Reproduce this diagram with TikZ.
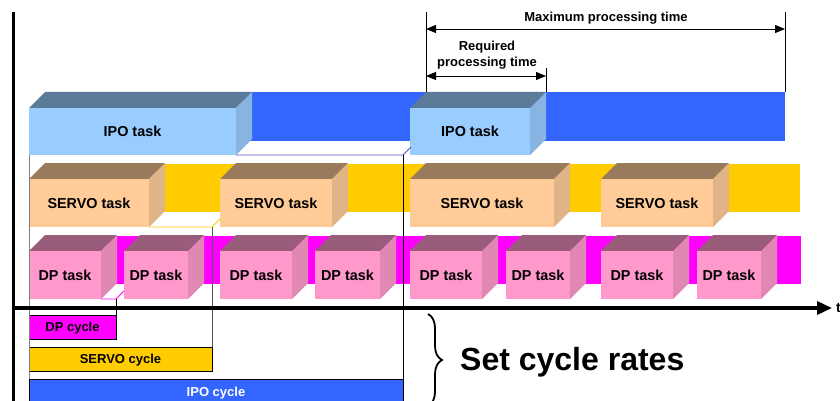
\documentclass[tikz,border=0pt]{standalone}
\usepackage{fontspec}
\setmainfont{Liberation Sans}
\usetikzlibrary{arrows.meta,decorations.pathreplacing}

\definecolor{ipoF}{HTML}{99CCFF}
\definecolor{ipoT}{HTML}{5C7A99}
\definecolor{ipoS}{HTML}{87B4E0}
\definecolor{ipoBar}{HTML}{3366FF}
\definecolor{srvF}{HTML}{FFCC99}
\definecolor{srvT}{HTML}{997A5C}
\definecolor{srvS}{HTML}{E0B487}
\definecolor{srvBar}{HTML}{FFCC00}
\definecolor{dpF}{HTML}{FF99CC}
\definecolor{dpT}{HTML}{995C7A}
\definecolor{dpS}{HTML}{E087B4}
\definecolor{dpBar}{HTML}{FF00FF}
\definecolor{ipoLine}{HTML}{5050D0}

\tikzset{
  front/.style={draw=none, inner sep=0pt, outer sep=0pt, anchor=north west,
    text height=10.3pt, text depth=0pt, font=\fontsize{14.4}{16}\selectfont\bfseries},
  cyc/.style={draw=black, line width=0.9pt, inner sep=0pt, outer sep=0pt, anchor=north west,
    text height=9.3pt, text depth=0pt, font=\fontsize{13}{15}\selectfont\bfseries},
  dimline/.style={line width=0.9pt, {Triangle[length=10pt,width=8pt]}-{Triangle[length=10pt,width=8pt]}},
  tickline/.style={line width=0.9pt},
  lab/.style={inner sep=0pt, font=\fontsize{13}{16}\selectfont\bfseries},
  thin/.style={line width=0.8pt},
}

\newcommand{\cube}[7]{%
  \fill[#6T] (#2,#4) -- ++(16,-16) -- (#3+16,#4-16) -- (#3,#4) -- cycle;
  \fill[#6S] (#3,#4) -- (#3+16,#4-16) -- (#3+16,#5-16) -- (#3,#5) -- cycle;
  \node[front, fill=#6F, minimum width={(#3-#2)*1pt}, minimum height={(#5-#4)*1pt}] (#1) at (#2,#4) {#7};
}

\begin{document}
\begin{tikzpicture}[x=1pt,y=-1pt]
\useasboundingbox (0,0) rectangle (840,401);
\clip (0,0) rectangle (840,401);
\fill[white] (0,0) rectangle (840,401);

% background bars
\fill[ipoBar] (244,92) rectangle (785,141);
\fill[srvBar] (157,164) rectangle (800,212);
\fill[dpBar] (109,236) rectangle (801,284);

% IPO tasks
\cube{ipoA}{29}{236}{108}{155}{ipo}{IPO task}
\cube{ipoB}{410}{530}{108}{155}{ipo}{IPO task}
% SERVO tasks
\cube{srvA}{29}{149}{179}{227}{srv}{SERVO task}
\cube{srvB}{220}{332}{179}{227}{srv}{SERVO task}
\cube{srvC}{410}{554}{179}{227}{srv}{SERVO task}
\cube{srvD}{601}{713}{179}{227}{srv}{SERVO task}
% DP tasks
\cube{dpA}{29}{101}{251}{299}{dp}{DP task}
\cube{dpB}{124}{188}{251}{299}{dp}{DP task}
\cube{dpC}{220}{292}{251}{299}{dp}{DP task}
\cube{dpD}{315}{380}{251}{299}{dp}{DP task}
\cube{dpE}{410}{482}{251}{299}{dp}{DP task}
\cube{dpF}{506}{570}{251}{299}{dp}{DP task}
\cube{dpG}{601}{673}{251}{299}{dp}{DP task}
\cube{dpH}{697}{761}{251}{299}{dp}{DP task}

% cycle bars
\node[cyc, fill=dpBar, minimum width=87pt, minimum height=24pt] (dpcyc) at (29,315) {DP cycle};
\node[cyc, fill=srvBar, minimum width=183pt, minimum height=24pt] (srvcyc) at (29,347) {SERVO cycle};
\node[cyc, fill=ipoBar, text=white, minimum width=374pt, minimum height=25pt] (ipocyc) at (29,379) {IPO cycle};

% connectors
\draw[thin, gray] (ipoA.south west) -- (ipocyc.north west);
\draw[thin, ipoLine] (ipoA.south east) -- (ipocyc.north east |- ipoA.south) -- ++(8,-8);
\draw[thin, srvBar] (srvA.south east) -- (srvcyc.north east |- srvA.south) -- ++(8,-8);
\draw[thin, dpBar] (dpA.south east) -- (dpcyc.north east |- dpA.south) -- ++(8,-8);
\draw[thin, black] (ipocyc.north east |- ipoA.south) -- (ipocyc.north east);
\draw[thin, black!65] (srvcyc.north east |- srvA.south) -- (srvcyc.north east);
\draw[thin, black] (dpcyc.north east |- dpA.south) -- (dpcyc.north east);

% dimension lines
\coordinate (mL) at (426,12);
\coordinate (mR) at (785,12);
\coordinate (rR) at (546,68);
\draw[tickline] (ipoB.north west) ++(16,-16) -- (mL);
\draw[tickline] (785,92) -- (mR);
\draw[tickline] (ipoB.north east) ++(16,-16) -- (rR);
\draw[dimline] (426,29) -- (785,29);
\draw[dimline] (426,76) -- (546,76);
\node[lab, anchor=base] (maxlab) at (606,21.7) {Maximum processing time};
\node[lab, align=center] (reqlab) at (487,55.5) {Required\\processing time};

% axes
\draw[line width=3pt] (13.5,12) -- (13.5,401);
\draw[line width=3.5pt, -{Triangle[length=15pt,width=13pt]}] (12,308) -- (832,308);
\node[anchor=west, inner sep=0pt, font=\fontsize{14}{16}\selectfont\bfseries] (tlab) at (836,308) {t};

% brace and label
\draw[line width=1.8pt, decorate, decoration={brace, amplitude=14pt}] (428,314) -- (428,406);
\node[anchor=base west, inner sep=0pt, font=\fontsize{32}{36}\selectfont\bfseries] (rates) at (460,370) {Set cycle rates};
\end{tikzpicture}
\end{document}
